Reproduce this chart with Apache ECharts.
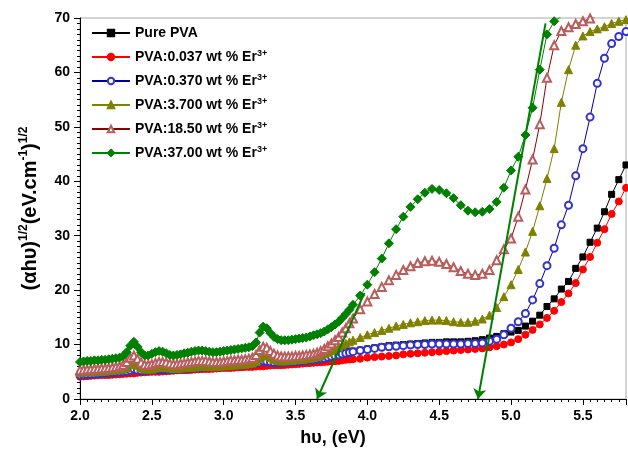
<!DOCTYPE html>
<html>
<head>
<meta charset="utf-8">
<script src="https://cdn.jsdelivr.net/npm/echarts@6/dist/echarts.min.js"></script>
<style>
  html, body { margin: 0; padding: 0; background: #fff; }
  #main { width: 628px; height: 454px; }
</style>
</head>
<body>
<div id="main"></div>
<script>
// photon energy, eV (denser sampling at low energy, as in the measured spectra)
var energy = [
  2.000, 2.025, 2.050, 2.075, 2.100, 2.125, 2.150, 2.175, 2.200, 2.225,
  2.250, 2.275, 2.300, 2.325, 2.350, 2.375, 2.400, 2.425, 2.450, 2.475,
  2.500, 2.525, 2.550, 2.575, 2.600, 2.625, 2.650, 2.675, 2.700, 2.725,
  2.750, 2.775, 2.800, 2.825, 2.850, 2.875, 2.900, 2.925, 2.950, 2.975,
  3.000, 3.025, 3.050, 3.075, 3.100, 3.125, 3.150, 3.175, 3.200, 3.225,
  3.250, 3.275, 3.300, 3.325, 3.350, 3.375, 3.400, 3.425, 3.450, 3.475,
  3.500, 3.525, 3.550, 3.575, 3.600, 3.625, 3.650, 3.675, 3.700, 3.725,
  3.750, 3.775, 3.800, 3.825, 3.850, 3.875, 3.900,
  3.95, 4.00, 4.05, 4.10, 4.15, 4.20, 4.25, 4.30, 4.35, 4.40,
  4.45, 4.50, 4.55, 4.60, 4.65, 4.70, 4.75, 4.80, 4.85, 4.90,
  4.95, 5.00, 5.05, 5.10, 5.15, 5.20, 5.25, 5.30, 5.35, 5.40,
  5.45, 5.50, 5.55, 5.60, 5.65, 5.70, 5.75, 5.80
];

var purePVA = [
  4.6, 4.65, 4.7, 4.75, 4.8, 4.85, 4.9, 4.95, 5.0, 5.0,
  5.0, 5.05, 5.1, 5.15, 5.2, 5.2, 5.3, 5.3, 5.3, 5.35,
  5.4, 5.45, 5.5, 5.5, 5.5, 5.55, 5.6, 5.65, 5.7, 5.75,
  5.8, 5.85, 5.9, 5.95, 6.0, 6.0, 6.0, 6.05, 6.1, 6.15,
  6.2, 6.25, 6.3, 6.35, 6.4, 6.45, 6.5, 6.55, 6.6, 6.65,
  6.7, 6.7, 6.8, 6.85, 6.9, 6.95, 7.0, 7.05, 7.1, 7.15,
  7.2, 7.25, 7.3, 7.35, 7.4, 7.5, 7.6, 7.7, 7.8, 7.9,
  8.0, 8.15, 8.3, 8.45, 8.6, 8.7, 8.8,
  9.0, 9.2, 9.4, 9.6, 9.8, 9.9, 10.0, 10.1, 10.2, 10.3,
  10.4, 10.4, 10.5, 10.5, 10.5, 10.6, 10.7, 10.9, 11.2, 11.5,
  12.0, 12.3, 12.6, 13.4, 14.3, 15.4, 17.0, 18.4, 20.2, 21.6,
  24.0, 26.1, 28.8, 31.4, 34.4, 37.6, 40.3, 43.0
];

var er0037 = [
  4.1, 4.15, 4.2, 4.25, 4.3, 4.35, 4.4, 4.4, 4.4, 4.45,
  4.5, 4.55, 4.6, 4.65, 4.7, 4.7, 4.8, 4.85, 4.9, 4.95,
  5.0, 5.0, 5.0, 5.05, 5.1, 5.15, 5.2, 5.25, 5.3, 5.3,
  5.3, 5.35, 5.4, 5.45, 5.5, 5.5, 5.5, 5.55, 5.6, 5.65,
  5.7, 5.7, 5.7, 5.75, 5.8, 5.85, 5.9, 5.9, 5.9, 5.95,
  6.0, 6.0, 6.1, 6.15, 6.2, 6.2, 6.2, 6.25, 6.3, 6.35,
  6.4, 6.45, 6.5, 6.55, 6.6, 6.65, 6.7, 6.75, 6.8, 6.85,
  6.9, 6.95, 7.0, 7.1, 7.2, 7.25, 7.3,
  7.4, 7.6, 7.7, 7.8, 7.9, 8.0, 8.2, 8.3, 8.4, 8.5,
  8.6, 8.7, 8.8, 8.9, 9.0, 9.1, 9.2, 9.3, 9.5, 9.7,
  10.0, 10.4, 11.0, 11.8, 12.7, 13.7, 14.9, 16.2, 17.8, 19.4,
  21.3, 23.8, 26.1, 28.7, 31.2, 34.0, 36.3, 38.8
];

var er0370 = [
  4.4, 4.45, 4.5, 4.55, 4.6, 4.65, 4.7, 4.75, 4.8, 4.85,
  4.9, 4.95, 5.0, 5.1, 5.3, 5.5, 5.3, 5.2, 5.2, 5.25,
  5.3, 5.35, 5.4, 5.4, 5.4, 5.4, 5.4, 5.45, 5.5, 5.55,
  5.6, 5.65, 5.7, 5.75, 5.8, 5.85, 5.9, 5.9, 5.9, 5.95,
  6.0, 6.05, 6.1, 6.15, 6.2, 6.25, 6.3, 6.35, 6.4, 6.5,
  6.8, 7.0, 6.9, 6.8, 6.7, 6.7, 6.7, 6.75, 6.8, 6.85,
  6.9, 6.95, 7.0, 7.05, 7.1, 7.2, 7.3, 7.4, 7.5, 7.65,
  7.8, 7.95, 8.1, 8.25, 8.4, 8.55, 8.7,
  8.9, 9.1, 9.3, 9.5, 9.6, 9.7, 9.8, 9.9, 10.0, 10.0,
  10.1, 10.1, 10.1, 10.1, 10.1, 10.2, 10.2, 10.3, 10.6, 11.0,
  11.8, 13.0, 14.2, 15.7, 18.2, 21.2, 24.5, 27.7, 32.0, 35.6,
  41.0, 46.0, 51.8, 58.0, 62.6, 65.3, 66.6, 67.5
];

var er3700 = [
  4.9, 4.95, 5.0, 5.0, 5.0, 5.05, 5.1, 5.15, 5.2, 5.25,
  5.3, 5.4, 5.5, 5.8, 6.3, 6.7, 6.2, 5.7, 5.5, 5.5,
  5.5, 5.7, 5.8, 5.8, 5.8, 5.7, 5.6, 5.6, 5.7, 5.75,
  5.8, 5.85, 5.9, 5.95, 6.0, 6.0, 6.0, 6.0, 6.0, 6.05,
  6.1, 6.15, 6.2, 6.25, 6.3, 6.35, 6.4, 6.5, 6.6, 6.9,
  7.5, 8.0, 7.9, 7.6, 7.3, 7.1, 7.0, 7.0, 7.1, 7.1,
  7.2, 7.25, 7.3, 7.4, 7.5, 7.6, 7.8, 8.0, 8.3, 8.6,
  8.9, 9.2, 9.6, 9.9, 10.2, 10.5, 10.8,
  11.3, 11.8, 12.2, 12.6, 13.0, 13.4, 13.7, 14.0, 14.2, 14.4,
  14.5, 14.5, 14.4, 14.2, 14.1, 14.1, 14.3, 14.7, 15.4, 16.8,
  18.8, 21.0, 23.8, 27.0, 30.8, 35.5, 40.5, 46.0, 54.5, 60.5,
  65.0, 66.7, 67.5, 68.0, 68.4, 69.0, 69.4, 69.7
];

var er1850 = [
  5.3, 5.35, 5.4, 5.45, 5.5, 5.55, 5.6, 5.65, 5.7, 5.8,
  5.9, 6.0, 6.3, 6.8, 7.6, 8.0, 7.4, 6.7, 6.3, 6.3,
  6.4, 6.6, 6.8, 6.8, 6.7, 6.5, 6.4, 6.4, 6.5, 6.6,
  6.7, 6.8, 6.9, 7.0, 7.0, 7.0, 6.9, 6.8, 6.8, 6.8,
  6.9, 7.0, 7.1, 7.1, 7.2, 7.2, 7.3, 7.4, 7.6, 8.1,
  9.0, 9.6, 9.4, 8.8, 8.3, 8.0, 7.8, 7.8, 7.8, 7.8,
  7.9, 7.9, 8.0, 8.1, 8.2, 8.3, 8.5, 8.8, 9.2, 9.7,
  10.2, 10.8, 11.4, 12.2, 13.0, 13.9, 14.8,
  16.5, 17.9, 19.3, 20.6, 21.8, 22.8, 23.7, 24.4, 25.0, 25.3,
  25.4, 25.2, 24.8, 24.2, 23.5, 23.0, 22.8, 23.0, 23.7, 25.5,
  27.5, 29.5, 33.5, 38.5, 44.0, 50.5, 59.0, 65.0, 67.6, 68.3,
  68.9, 69.4, 69.9, 70.4, null, null, null, null
];

var er3700b = [
  6.8, 6.9, 7.0, 7.0, 7.1, 7.1, 7.2, 7.2, 7.3, 7.4,
  7.5, 7.6, 7.9, 8.6, 9.8, 10.5, 9.6, 8.6, 8.0, 8.0,
  8.3, 8.6, 8.8, 8.7, 8.4, 8.1, 8.0, 8.1, 8.2, 8.4,
  8.5, 8.7, 8.8, 8.9, 8.9, 8.8, 8.7, 8.6, 8.6, 8.7,
  8.8, 8.9, 9.0, 9.1, 9.2, 9.3, 9.4, 9.5, 9.7, 10.4,
  12.2, 13.3, 13.0, 12.1, 11.4, 11.0, 10.8, 10.8, 10.8, 10.9,
  11.0, 11.1, 11.2, 11.3, 11.5, 11.7, 11.9, 12.1, 12.4, 12.8,
  13.2, 13.7, 14.2, 14.9, 15.6, 16.4, 17.3,
  19.0, 21.0, 23.3, 25.8, 28.6, 31.2, 33.5, 35.3, 36.7, 37.9,
  38.6, 38.4, 37.8, 36.9, 35.6, 34.6, 34.3, 34.4, 34.9, 36.2,
  38.8, 42.0, 44.5, 48.5, 53.5, 60.5, 67.0, 69.4, 70.3, 71.0,
  null, null, null, null, null, null, null, null
];

// green band-gap extrapolation arrows [start, tip] in data units
var arrowIndirect = [[3.98, 19.5], [3.65, 0]];
var arrowDirect = [[5.24, 69.0], [4.77, 0]];

var xTicks = { min: 2, max: 5.8, interval: 0.5 };
var yTicks = { min: 0, max: 70, interval: 10 };

function pairs(ys) {
  var out = [];
  for (var i = 0; i < energy.length; i++) {
    if (ys[i] != null) out.push([energy[i], ys[i]]);
  }
  return out;
}

var font = 'Arial, "Liberation Sans", sans-serif';

function makeSeries(name, ys, lineColor, symColor, symbol, size) {
  return {
    name: name,
    type: 'line',
    data: pairs(ys),
    symbol: symbol,
    symbolSize: size,
    showAllSymbol: true,
    lineStyle: { color: lineColor, width: 1 },
    itemStyle: { color: symColor, borderColor: symColor, borderWidth: 1 },
    emphasis: { disabled: true },
    animation: false
  };
}

var chart = echarts.init(document.getElementById('main'));

var option = {
  backgroundColor: '#fff',
  animation: false,
  grid: {
    left: 80, right: 2, top: 18, bottom: 55,
    show: true, borderColor: '#a8a8a8', borderWidth: 1
  },
  legend: {
    left: 86, top: 20, orient: 'vertical',
    itemWidth: 38, itemHeight: 8, itemGap: 8,
    data: ['Pure PVA', 'PVA:0.037 wt % Er', 'PVA:0.370 wt % Er',
           'PVA:3.700 wt % Er', 'PVA:18.50 wt % Er', 'PVA:37.00 wt % Er'],
    formatter: function (name) {
      return name === 'Pure PVA' ? name : name + '{sup|3+}';
    },
    textStyle: {
      fontFamily: font, fontWeight: 'bold', fontSize: 14, color: '#000',
      lineHeight: 16,
      rich: {
        sup: { fontFamily: font, fontWeight: 'bold', fontSize: 9, color: '#000', verticalAlign: 'top', lineHeight: 16 }
      }
    }
  },
  xAxis: {
    type: 'value',
    min: xTicks.min, max: xTicks.max, interval: xTicks.interval,
    name: 'hυ, (eV)',
    nameLocation: 'middle', nameGap: 30,
    nameTextStyle: { fontFamily: font, fontWeight: 'bold', fontSize: 18, color: '#000', padding: [0, 40, 0, 0] },
    axisLine: { show: true, onZero: false, lineStyle: { color: '#000', width: 1 } },
    axisTick: { show: true, inside: false, length: 6, lineStyle: { color: '#000' } },
    minorTick: { show: true, splitNumber: 10, length: 3, lineStyle: { color: '#000' } },
    splitLine: { show: false },
    axisLabel: {
      fontFamily: font, fontWeight: 'bold', fontSize: 14, color: '#000', margin: 10,
      showMaxLabel: false,
      formatter: function (v) { return v.toFixed(1); }
    }
  },
  yAxis: {
    type: 'value',
    min: yTicks.min, max: yTicks.max, interval: yTicks.interval,
    name: '(αhυ){s|1/2}(eV.cm{s|-1}){s|1/2}',
    nameLocation: 'middle', nameGap: 38, nameRotate: 90,
    nameTextStyle: {
      fontFamily: font, fontWeight: 'bold', fontSize: 20, color: '#000', lineHeight: 24,
      rich: { s: { fontFamily: font, fontWeight: 'bold', fontSize: 12, color: '#000', verticalAlign: 'top', lineHeight: 24 } }
    },
    axisLine: { show: true, onZero: false, lineStyle: { color: '#000', width: 1 } },
    axisTick: { show: true, inside: false, length: 6, lineStyle: { color: '#000' } },
    minorTick: { show: true, splitNumber: 10, length: 3, lineStyle: { color: '#000' } },
    splitLine: { show: false },
    axisLabel: { fontFamily: font, fontWeight: 'bold', fontSize: 14, color: '#000', margin: 10 }
  },
  series: [
    makeSeries('Pure PVA', purePVA, '#000000', '#000000', 'rect', 6),
    makeSeries('PVA:0.037 wt % Er', er0037, '#ff0000', '#ff0000', 'circle', 7),
    makeSeries('PVA:0.370 wt % Er', er0370, '#000099', '#3333cc', 'emptyCircle', 7),
    makeSeries('PVA:3.700 wt % Er', er3700, '#808000', '#808000', 'triangle', 8),
    makeSeries('PVA:18.50 wt % Er', er1850, '#8b0000', '#b85c5c', 'emptyTriangle', 8),
    makeSeries('PVA:37.00 wt % Er', er3700b, '#008000', '#008000', 'diamond', 9),
    {
      type: 'lines',
      coordinateSystem: 'cartesian2d',
      silent: true,
      z: 5,
      symbol: ['none', 'arrow'],
      symbolSize: 10,
      lineStyle: { color: '#008000', width: 2, opacity: 1, curveness: 0 },
      data: [{ coords: arrowIndirect }, { coords: arrowDirect }],
      animation: false
    }
  ]
};

chart.setOption(option);
</script>
</body>
</html>
